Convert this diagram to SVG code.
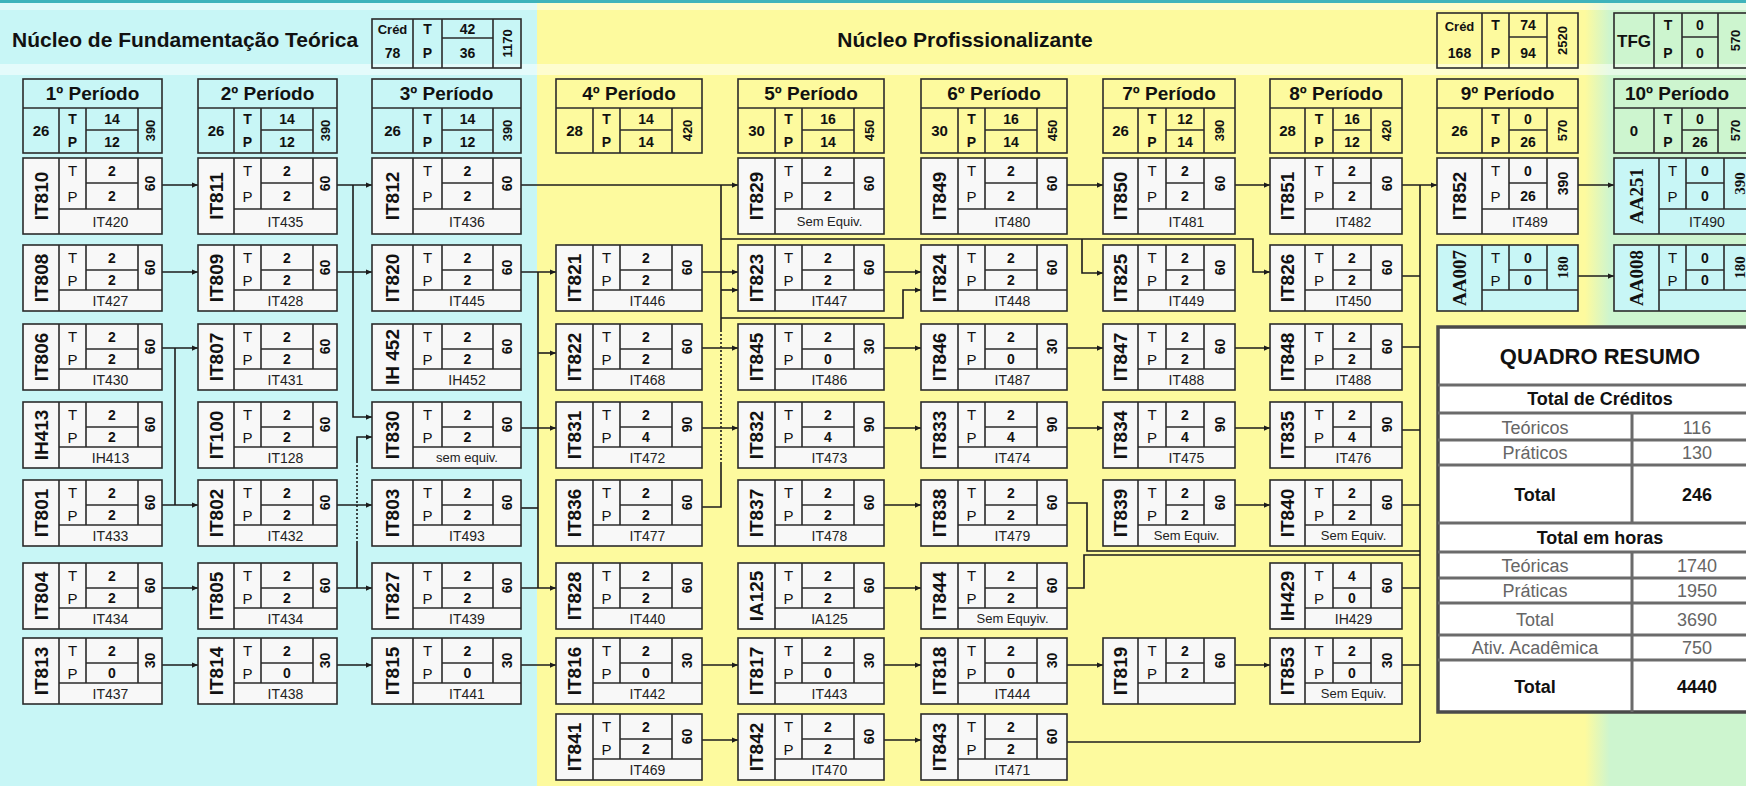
<svg xmlns="http://www.w3.org/2000/svg" width="1746" height="786" viewBox="0 0 1746 786">
<style>
text{font-family:"Liberation Sans",Arial,sans-serif;fill:#111;text-anchor:middle;dominant-baseline:central}
use{fill:#f8f8f8}
use.cy{fill:#c8f6f6}
.cd{font-weight:bold;font-size:19px}
.cs{font-family:"Liberation Serif","Times New Roman",serif;font-weight:bold;font-size:19px}
.tp{font-size:15px}
.v{font-weight:bold;font-size:14px}
.h{font-weight:bold;font-size:14px}
.hs{font-family:"Liberation Serif","Times New Roman",serif;font-weight:bold;font-size:15px}
.eq{font-size:14px;fill:#222}
.pt{font-weight:bold;font-size:19px}
.pv{font-weight:bold;font-size:14px}
.p1{font-weight:bold;font-size:15px}
.ph{font-weight:bold;font-size:13px}
.hd{font-weight:bold;font-size:21px;dominant-baseline:alphabetic}
.pb{fill:none;stroke:#2b2b2b;stroke-width:1.6}
.cn path{fill:none;stroke:#1c1c1c;stroke-width:1.6}
.cn path.a{marker-end:url(#ar)}
.cn path.d{stroke-dasharray:2,2}
.qt{dominant-baseline:alphabetic;font-size:18px}
.qb{font-weight:bold}
.qg{fill:#666}
</style>
<defs>
<marker id="ar" viewBox="0 0 8 8" refX="8" refY="4" markerWidth="7" markerHeight="6" markerUnits="userSpaceOnUse" orient="auto"><path d="M0,0.5L8,4L0,7.5z" fill="#1c1c1c"/></marker>
<g id="A1" stroke="#2b2b2b" stroke-width="1.6"><rect width="139" height="76"/><path fill="none" d="M36,0V76M63,0V51M115,0V51M63,25H115M36,51H139"/></g>
<g id="An" stroke="#2b2b2b" stroke-width="1.6"><rect width="139" height="66"/><path fill="none" d="M36,0V66M63,0V45M115,0V45M63,25H115M36,45H139"/></g>
<g id="B1" stroke="#2b2b2b" stroke-width="1.6"><rect width="149" height="76"/><path fill="none" d="M41,0V76M70,0V51M121,0V51M70,25H121M41,51H149"/></g>
<g id="Bn" stroke="#2b2b2b" stroke-width="1.6"><rect width="149" height="66"/><path fill="none" d="M41,0V66M70,0V45M121,0V45M70,25H121M41,45H149"/></g>
<g id="D1" stroke="#2b2b2b" stroke-width="1.6"><rect width="146" height="76"/><path fill="none" d="M37,0V76M64,0V51M116,0V51M64,25H116M37,51H146"/></g>
<g id="Dn" stroke="#2b2b2b" stroke-width="1.6"><rect width="146" height="66"/><path fill="none" d="M37,0V66M64,0V45M116,0V45M64,25H116M37,45H146"/></g>
<g id="E1" stroke="#2b2b2b" stroke-width="1.6"><rect width="132" height="76"/><path fill="none" d="M35,0V76M63,0V51M101,0V51M63,25H101M35,51H132"/></g>
<g id="En" stroke="#2b2b2b" stroke-width="1.6"><rect width="132" height="66"/><path fill="none" d="M35,0V66M63,0V45M101,0V45M63,25H101M35,45H132"/></g>
<g id="F1" stroke="#2b2b2b" stroke-width="1.6"><rect width="141" height="76"/><path fill="none" d="M45,0V76M72,0V51M110,0V51M72,25H110M45,51H141"/></g>
<g id="Fn" stroke="#2b2b2b" stroke-width="1.6"><rect width="141" height="66"/><path fill="none" d="M45,0V66M72,0V45M110,0V45M72,25H110M45,45H141"/></g>
<linearGradient id="yg" x1="0" x2="1" y1="0" y2="0"><stop offset="0" stop-color="#fdfa9e"/><stop offset="1" stop-color="#cdf5cf"/></linearGradient>
</defs>

<g id="background">
<rect x="0" y="0" width="537" height="786" fill="#c8f6f6"/>
<rect x="537" y="0" width="1060" height="786" fill="#fdfa9e"/>
<rect x="1585" y="0" width="25" height="786" fill="url(#yg)"/>
<rect x="1610" y="0" width="136" height="786" fill="#cdf5cf"/>
<rect x="0" y="0" width="1746" height="3" fill="#3fb3bb"/>
<rect x="0" y="3" width="1746" height="7" fill="#fff" opacity="0.45"/>
<rect x="0" y="64" width="1746" height="11" fill="#fff" opacity="0.5"/>
</g>

<g id="header">
<text class="hd" x="12" y="47" style="text-anchor:start">Núcleo de Fundamentação Teórica</text>
<text class="hd" x="965" y="47">Núcleo Profissionalizante</text>
<g id="cred1" transform="translate(372,19)"><rect class="pb" width="149" height="49"/><path class="pb" d="M41,0V49M70,0V49M121,0V49M70,19H121"/>
<text class="pv" x="20.5" y="10.5" style="font-size:13px">Créd</text><text class="pv" x="20.5" y="34">78</text><text class="pv" x="55.5" y="10">T</text><text class="pv" x="55.5" y="34">P</text><text class="pv" x="95.5" y="10">42</text><text class="pv" x="95.5" y="34">36</text><text class="ph" transform="translate(135,24.5) rotate(-90)">1170</text></g>
<g id="cred2" transform="translate(1437,13)"><rect class="pb" width="141" height="55"/><path class="pb" d="M45,0V55M72,0V55M110,0V55M72,24H110"/>
<text class="pv" x="22.5" y="13" style="font-size:13px">Créd</text><text class="pv" x="22.5" y="40">168</text><text class="pv" x="58.5" y="12">T</text><text class="pv" x="58.5" y="40">P</text><text class="pv" x="91" y="12">74</text><text class="pv" x="91" y="40">94</text><text class="ph" transform="translate(125.5,27.5) rotate(-90)">2520</text></g>
<g id="tfg" transform="translate(1614,13)"><rect class="pb" width="140" height="55"/><path class="pb" d="M40,0V55M68,0V55M104,0V55M68,24H104"/>
<text class="pv" x="20" y="28" style="font-size:17px">TFG</text><text class="pv" x="54" y="12">T</text><text class="pv" x="54" y="40">P</text><text class="pv" x="86" y="12">0</text><text class="pv" x="86" y="40">0</text><text class="ph" transform="translate(121,27.5) rotate(-90)">570</text></g>
</g>

<g id="periods">
<g id="p1" transform="translate(23,79)"><rect class="pb" width="139" height="74"/><path class="pb" d="M0,29H139M36,29V74M63,29V74M115,29V74M63,51H115"/><text class="pt" x="69.5" y="14.5">1º Período</text><text class="p1" x="18" y="51.5">26</text><text class="pv" x="49.5" y="40">T</text><text class="pv" x="49.5" y="62.5">P</text><text class="pv" x="89" y="40">14</text><text class="pv" x="89" y="62.5">12</text><text class="ph" transform="translate(127,51.5) rotate(-90)">390</text></g>
<g id="p2" transform="translate(198,79)"><rect class="pb" width="139" height="74"/><path class="pb" d="M0,29H139M36,29V74M63,29V74M115,29V74M63,51H115"/><text class="pt" x="69.5" y="14.5">2º Período</text><text class="p1" x="18" y="51.5">26</text><text class="pv" x="49.5" y="40">T</text><text class="pv" x="49.5" y="62.5">P</text><text class="pv" x="89" y="40">14</text><text class="pv" x="89" y="62.5">12</text><text class="ph" transform="translate(127,51.5) rotate(-90)">390</text></g>
<g id="p3" transform="translate(372,79)"><rect class="pb" width="149" height="74"/><path class="pb" d="M0,29H149M41,29V74M70,29V74M121,29V74M70,51H121"/><text class="pt" x="74.5" y="14.5">3º Período</text><text class="p1" x="20.5" y="51.5">26</text><text class="pv" x="55.5" y="40">T</text><text class="pv" x="55.5" y="62.5">P</text><text class="pv" x="95.5" y="40">14</text><text class="pv" x="95.5" y="62.5">12</text><text class="ph" transform="translate(135,51.5) rotate(-90)">390</text></g>
<g id="p4" transform="translate(556,79)"><rect class="pb" width="146" height="74"/><path class="pb" d="M0,29H146M37,29V74M64,29V74M116,29V74M64,51H116"/><text class="pt" x="73" y="14.5">4º Período</text><text class="p1" x="18.5" y="51.5">28</text><text class="pv" x="50.5" y="40">T</text><text class="pv" x="50.5" y="62.5">P</text><text class="pv" x="90" y="40">14</text><text class="pv" x="90" y="62.5">14</text><text class="ph" transform="translate(131,51.5) rotate(-90)">420</text></g>
<g id="p5" transform="translate(738,79)"><rect class="pb" width="146" height="74"/><path class="pb" d="M0,29H146M37,29V74M64,29V74M116,29V74M64,51H116"/><text class="pt" x="73" y="14.5">5º Período</text><text class="p1" x="18.5" y="51.5">30</text><text class="pv" x="50.5" y="40">T</text><text class="pv" x="50.5" y="62.5">P</text><text class="pv" x="90" y="40">16</text><text class="pv" x="90" y="62.5">14</text><text class="ph" transform="translate(131,51.5) rotate(-90)">450</text></g>
<g id="p6" transform="translate(921,79)"><rect class="pb" width="146" height="74"/><path class="pb" d="M0,29H146M37,29V74M64,29V74M116,29V74M64,51H116"/><text class="pt" x="73" y="14.5">6º Período</text><text class="p1" x="18.5" y="51.5">30</text><text class="pv" x="50.5" y="40">T</text><text class="pv" x="50.5" y="62.5">P</text><text class="pv" x="90" y="40">16</text><text class="pv" x="90" y="62.5">14</text><text class="ph" transform="translate(131,51.5) rotate(-90)">450</text></g>
<g id="p7" transform="translate(1103,79)"><rect class="pb" width="132" height="74"/><path class="pb" d="M0,29H132M35,29V74M63,29V74M101,29V74M63,51H101"/><text class="pt" x="66" y="14.5">7º Período</text><text class="p1" x="17.5" y="51.5">26</text><text class="pv" x="49" y="40">T</text><text class="pv" x="49" y="62.5">P</text><text class="pv" x="82" y="40">12</text><text class="pv" x="82" y="62.5">14</text><text class="ph" transform="translate(116.5,51.5) rotate(-90)">390</text></g>
<g id="p8" transform="translate(1270,79)"><rect class="pb" width="132" height="74"/><path class="pb" d="M0,29H132M35,29V74M63,29V74M101,29V74M63,51H101"/><text class="pt" x="66" y="14.5">8º Período</text><text class="p1" x="17.5" y="51.5">28</text><text class="pv" x="49" y="40">T</text><text class="pv" x="49" y="62.5">P</text><text class="pv" x="82" y="40">16</text><text class="pv" x="82" y="62.5">12</text><text class="ph" transform="translate(116.5,51.5) rotate(-90)">420</text></g>
<g id="p9" transform="translate(1437,79)"><rect class="pb" width="141" height="74"/><path class="pb" d="M0,29H141M45,29V74M72,29V74M110,29V74M72,51H110"/><text class="pt" x="70.5" y="14.5">9º Período</text><text class="p1" x="22.5" y="51.5">26</text><text class="pv" x="58.5" y="40">T</text><text class="pv" x="58.5" y="62.5">P</text><text class="pv" x="91" y="40">0</text><text class="pv" x="91" y="62.5">26</text><text class="ph" transform="translate(125.5,51.5) rotate(-90)">570</text></g>
<g id="p10" transform="translate(1614,79)"><rect class="pb" width="140" height="74"/><path class="pb" d="M0,29H140M40,29V74M68,29V74M104,29V74M68,51H104"/><text class="pt" x="63" y="14.5">10º Período</text><text class="p1" x="20" y="51.5">0</text><text class="pv" x="54" y="40">T</text><text class="pv" x="54" y="62.5">P</text><text class="pv" x="86" y="40">0</text><text class="pv" x="86" y="62.5">26</text><text class="ph" transform="translate(121,51.5) rotate(-90)">570</text></g>
</g>

<g id="connectors" class="cn">
<path class="a" d="M162,185H198"/>
<path class="a" d="M162,272H198"/>
<path class="a" d="M162,348H198"/>
<path d="M175,348V505"/>
<path class="a" d="M162,505H198"/>
<path class="a" d="M162,588H198"/>
<path class="a" d="M162,665H198"/>
<path class="a" d="M337,185H372"/>
<path class="a" d="M353,185V417H372"/>
<path class="a" d="M337,272H372"/>
<path class="a" d="M337,505H372"/>
<path class="a" d="M337,588H372"/>
<path d="M357,588V543"/>
<path class="d" d="M357,543V462"/>
<path class="a" d="M357,462V437H372"/>
<path class="a" d="M337,665H372"/>
<path class="a" d="M521,185H738"/>
<path class="a" d="M521,272H556"/>
<path d="M538,272V588"/>
<path class="a" d="M538,353H556"/>
<path class="a" d="M521,428H556"/>
<path d="M521,508H538"/>
<path class="a" d="M521,588H556"/>
<path class="a" d="M521,665H556"/>
<path d="M721,185V330"/>
<path class="d" d="M721,330V462"/>
<path d="M721,462V507H702"/>
<path class="a" d="M702,272H738"/>
<path class="a" d="M721,290H738"/>
<path class="a" d="M702,348H738"/>
<path class="a" d="M702,428H738"/>
<path class="a" d="M702,665H738"/>
<path class="a" d="M702,740H738"/>
<path class="a" d="M721,239H1253V272H1270"/>
<path class="a" d="M1082,239V273H1103"/>
<path class="a" d="M721,318H903V290H921"/>
<path class="a" d="M884,272H921"/>
<path class="a" d="M884,348H921"/>
<path class="a" d="M884,428H921"/>
<path class="a" d="M884,505H921"/>
<path class="a" d="M884,588H921"/>
<path class="a" d="M884,665H921"/>
<path class="a" d="M884,740H921"/>
<path class="a" d="M1067,185H1103"/>
<path class="a" d="M1067,348H1103"/>
<path class="a" d="M1067,428H1103"/>
<path class="a" d="M1067,665H1103"/>
<path d="M1067,503H1087V551H1420"/>
<path d="M1067,588H1084V555H1420"/>
<path d="M1067,742H1420"/>
<path class="a" d="M1234,185H1270"/>
<path class="a" d="M1234,348H1270"/>
<path class="a" d="M1234,428H1270"/>
<path class="a" d="M1234,505H1270"/>
<path class="a" d="M1234,665H1270"/>
<path class="a" d="M1402,185H1437"/>
<path d="M1420,185V742"/>
<path d="M1402,276H1420M1402,347H1420M1402,430H1420M1402,505H1420M1402,588H1420M1402,665H1420"/>
<path class="a" d="M1578,185H1614"/>
<path class="a" d="M1578,276H1614"/>
</g>

<g id="nodes">
<g id="IT810" transform="translate(23,158)"><use href="#A1"/><text class="cd" transform="translate(18,38) rotate(-90)">IT810</text><text class="tp" x="49.5" y="12.5">T</text><text class="tp" x="49.5" y="38">P</text><text class="v" x="89" y="12.5">2</text><text class="v" x="89" y="38">2</text><text class="h" transform="translate(127,25.5) rotate(-90)">60</text><text class="eq" x="87.5" y="63.5">IT420</text></g>
<g id="IT808" transform="translate(23,245)"><use href="#An"/><text class="cd" transform="translate(18,33) rotate(-90)">IT808</text><text class="tp" x="49.5" y="12.5">T</text><text class="tp" x="49.5" y="35">P</text><text class="v" x="89" y="12.5">2</text><text class="v" x="89" y="35">2</text><text class="h" transform="translate(127,22.5) rotate(-90)">60</text><text class="eq" x="87.5" y="55.5">IT427</text></g>
<g id="IT806" transform="translate(23,324)"><use href="#An"/><text class="cd" transform="translate(18,33) rotate(-90)">IT806</text><text class="tp" x="49.5" y="12.5">T</text><text class="tp" x="49.5" y="35">P</text><text class="v" x="89" y="12.5">2</text><text class="v" x="89" y="35">2</text><text class="h" transform="translate(127,22.5) rotate(-90)">60</text><text class="eq" x="87.5" y="55.5">IT430</text></g>
<g id="IH413" transform="translate(23,402)"><use href="#An"/><text class="cd" transform="translate(18,33) rotate(-90)">IH413</text><text class="tp" x="49.5" y="12.5">T</text><text class="tp" x="49.5" y="35">P</text><text class="v" x="89" y="12.5">2</text><text class="v" x="89" y="35">2</text><text class="h" transform="translate(127,22.5) rotate(-90)">60</text><text class="eq" x="87.5" y="55.5">IH413</text></g>
<g id="IT801" transform="translate(23,480)"><use href="#An"/><text class="cd" transform="translate(18,33) rotate(-90)">IT801</text><text class="tp" x="49.5" y="12.5">T</text><text class="tp" x="49.5" y="35">P</text><text class="v" x="89" y="12.5">2</text><text class="v" x="89" y="35">2</text><text class="h" transform="translate(127,22.5) rotate(-90)">60</text><text class="eq" x="87.5" y="55.5">IT433</text></g>
<g id="IT804" transform="translate(23,563)"><use href="#An"/><text class="cd" transform="translate(18,33) rotate(-90)">IT804</text><text class="tp" x="49.5" y="12.5">T</text><text class="tp" x="49.5" y="35">P</text><text class="v" x="89" y="12.5">2</text><text class="v" x="89" y="35">2</text><text class="h" transform="translate(127,22.5) rotate(-90)">60</text><text class="eq" x="87.5" y="55.5">IT434</text></g>
<g id="IT813" transform="translate(23,638)"><use href="#An"/><text class="cd" transform="translate(18,33) rotate(-90)">IT813</text><text class="tp" x="49.5" y="12.5">T</text><text class="tp" x="49.5" y="35">P</text><text class="v" x="89" y="12.5">2</text><text class="v" x="89" y="35">0</text><text class="h" transform="translate(127,22.5) rotate(-90)">30</text><text class="eq" x="87.5" y="55.5">IT437</text></g>
<g id="IT811" transform="translate(198,158)"><use href="#A1"/><text class="cd" transform="translate(18,38) rotate(-90)">IT811</text><text class="tp" x="49.5" y="12.5">T</text><text class="tp" x="49.5" y="38">P</text><text class="v" x="89" y="12.5">2</text><text class="v" x="89" y="38">2</text><text class="h" transform="translate(127,25.5) rotate(-90)">60</text><text class="eq" x="87.5" y="63.5">IT435</text></g>
<g id="IT809" transform="translate(198,245)"><use href="#An"/><text class="cd" transform="translate(18,33) rotate(-90)">IT809</text><text class="tp" x="49.5" y="12.5">T</text><text class="tp" x="49.5" y="35">P</text><text class="v" x="89" y="12.5">2</text><text class="v" x="89" y="35">2</text><text class="h" transform="translate(127,22.5) rotate(-90)">60</text><text class="eq" x="87.5" y="55.5">IT428</text></g>
<g id="IT807" transform="translate(198,324)"><use href="#An"/><text class="cd" transform="translate(18,33) rotate(-90)">IT807</text><text class="tp" x="49.5" y="12.5">T</text><text class="tp" x="49.5" y="35">P</text><text class="v" x="89" y="12.5">2</text><text class="v" x="89" y="35">2</text><text class="h" transform="translate(127,22.5) rotate(-90)">60</text><text class="eq" x="87.5" y="55.5">IT431</text></g>
<g id="IT100" transform="translate(198,402)"><use href="#An"/><text class="cd" transform="translate(18,33) rotate(-90)">IT100</text><text class="tp" x="49.5" y="12.5">T</text><text class="tp" x="49.5" y="35">P</text><text class="v" x="89" y="12.5">2</text><text class="v" x="89" y="35">2</text><text class="h" transform="translate(127,22.5) rotate(-90)">60</text><text class="eq" x="87.5" y="55.5">IT128</text></g>
<g id="IT802" transform="translate(198,480)"><use href="#An"/><text class="cd" transform="translate(18,33) rotate(-90)">IT802</text><text class="tp" x="49.5" y="12.5">T</text><text class="tp" x="49.5" y="35">P</text><text class="v" x="89" y="12.5">2</text><text class="v" x="89" y="35">2</text><text class="h" transform="translate(127,22.5) rotate(-90)">60</text><text class="eq" x="87.5" y="55.5">IT432</text></g>
<g id="IT805" transform="translate(198,563)"><use href="#An"/><text class="cd" transform="translate(18,33) rotate(-90)">IT805</text><text class="tp" x="49.5" y="12.5">T</text><text class="tp" x="49.5" y="35">P</text><text class="v" x="89" y="12.5">2</text><text class="v" x="89" y="35">2</text><text class="h" transform="translate(127,22.5) rotate(-90)">60</text><text class="eq" x="87.5" y="55.5">IT434</text></g>
<g id="IT814" transform="translate(198,638)"><use href="#An"/><text class="cd" transform="translate(18,33) rotate(-90)">IT814</text><text class="tp" x="49.5" y="12.5">T</text><text class="tp" x="49.5" y="35">P</text><text class="v" x="89" y="12.5">2</text><text class="v" x="89" y="35">0</text><text class="h" transform="translate(127,22.5) rotate(-90)">30</text><text class="eq" x="87.5" y="55.5">IT438</text></g>
<g id="IT812" transform="translate(372,158)"><use href="#B1"/><text class="cd" transform="translate(20.5,38) rotate(-90)">IT812</text><text class="tp" x="55.5" y="12.5">T</text><text class="tp" x="55.5" y="38">P</text><text class="v" x="95.5" y="12.5">2</text><text class="v" x="95.5" y="38">2</text><text class="h" transform="translate(135,25.5) rotate(-90)">60</text><text class="eq" x="95" y="63.5">IT436</text></g>
<g id="IT820" transform="translate(372,245)"><use href="#Bn"/><text class="cd" transform="translate(20.5,33) rotate(-90)">IT820</text><text class="tp" x="55.5" y="12.5">T</text><text class="tp" x="55.5" y="35">P</text><text class="v" x="95.5" y="12.5">2</text><text class="v" x="95.5" y="35">2</text><text class="h" transform="translate(135,22.5) rotate(-90)">60</text><text class="eq" x="95" y="55.5">IT445</text></g>
<g id="IH452" transform="translate(372,324)"><use href="#Bn"/><text class="cd" transform="translate(20.5,33) rotate(-90)">IH 452</text><text class="tp" x="55.5" y="12.5">T</text><text class="tp" x="55.5" y="35">P</text><text class="v" x="95.5" y="12.5">2</text><text class="v" x="95.5" y="35">2</text><text class="h" transform="translate(135,22.5) rotate(-90)">60</text><text class="eq" x="95" y="55.5">IH452</text></g>
<g id="IT830" transform="translate(372,402)"><use href="#Bn"/><text class="cd" transform="translate(20.5,33) rotate(-90)">IT830</text><text class="tp" x="55.5" y="12.5">T</text><text class="tp" x="55.5" y="35">P</text><text class="v" x="95.5" y="12.5">2</text><text class="v" x="95.5" y="35">2</text><text class="h" transform="translate(135,22.5) rotate(-90)">60</text><text class="eq" x="95" y="55.5" style="font-size:13px">sem equiv.</text></g>
<g id="IT803" transform="translate(372,480)"><use href="#Bn"/><text class="cd" transform="translate(20.5,33) rotate(-90)">IT803</text><text class="tp" x="55.5" y="12.5">T</text><text class="tp" x="55.5" y="35">P</text><text class="v" x="95.5" y="12.5">2</text><text class="v" x="95.5" y="35">2</text><text class="h" transform="translate(135,22.5) rotate(-90)">60</text><text class="eq" x="95" y="55.5">IT493</text></g>
<g id="IT827" transform="translate(372,563)"><use href="#Bn"/><text class="cd" transform="translate(20.5,33) rotate(-90)">IT827</text><text class="tp" x="55.5" y="12.5">T</text><text class="tp" x="55.5" y="35">P</text><text class="v" x="95.5" y="12.5">2</text><text class="v" x="95.5" y="35">2</text><text class="h" transform="translate(135,22.5) rotate(-90)">60</text><text class="eq" x="95" y="55.5">IT439</text></g>
<g id="IT815" transform="translate(372,638)"><use href="#Bn"/><text class="cd" transform="translate(20.5,33) rotate(-90)">IT815</text><text class="tp" x="55.5" y="12.5">T</text><text class="tp" x="55.5" y="35">P</text><text class="v" x="95.5" y="12.5">2</text><text class="v" x="95.5" y="35">0</text><text class="h" transform="translate(135,22.5) rotate(-90)">30</text><text class="eq" x="95" y="55.5">IT441</text></g>
<g id="IT821" transform="translate(556,245)"><use href="#Dn"/><text class="cd" transform="translate(18.5,33) rotate(-90)">IT821</text><text class="tp" x="50.5" y="12.5">T</text><text class="tp" x="50.5" y="35">P</text><text class="v" x="90" y="12.5">2</text><text class="v" x="90" y="35">2</text><text class="h" transform="translate(131,22.5) rotate(-90)">60</text><text class="eq" x="91.5" y="55.5">IT446</text></g>
<g id="IT822" transform="translate(556,324)"><use href="#Dn"/><text class="cd" transform="translate(18.5,33) rotate(-90)">IT822</text><text class="tp" x="50.5" y="12.5">T</text><text class="tp" x="50.5" y="35">P</text><text class="v" x="90" y="12.5">2</text><text class="v" x="90" y="35">2</text><text class="h" transform="translate(131,22.5) rotate(-90)">60</text><text class="eq" x="91.5" y="55.5">IT468</text></g>
<g id="IT831" transform="translate(556,402)"><use href="#Dn"/><text class="cd" transform="translate(18.5,33) rotate(-90)">IT831</text><text class="tp" x="50.5" y="12.5">T</text><text class="tp" x="50.5" y="35">P</text><text class="v" x="90" y="12.5">2</text><text class="v" x="90" y="35">4</text><text class="h" transform="translate(131,22.5) rotate(-90)">90</text><text class="eq" x="91.5" y="55.5">IT472</text></g>
<g id="IT836" transform="translate(556,480)"><use href="#Dn"/><text class="cd" transform="translate(18.5,33) rotate(-90)">IT836</text><text class="tp" x="50.5" y="12.5">T</text><text class="tp" x="50.5" y="35">P</text><text class="v" x="90" y="12.5">2</text><text class="v" x="90" y="35">2</text><text class="h" transform="translate(131,22.5) rotate(-90)">60</text><text class="eq" x="91.5" y="55.5">IT477</text></g>
<g id="IT828" transform="translate(556,563)"><use href="#Dn"/><text class="cd" transform="translate(18.5,33) rotate(-90)">IT828</text><text class="tp" x="50.5" y="12.5">T</text><text class="tp" x="50.5" y="35">P</text><text class="v" x="90" y="12.5">2</text><text class="v" x="90" y="35">2</text><text class="h" transform="translate(131,22.5) rotate(-90)">60</text><text class="eq" x="91.5" y="55.5">IT440</text></g>
<g id="IT816" transform="translate(556,638)"><use href="#Dn"/><text class="cd" transform="translate(18.5,33) rotate(-90)">IT816</text><text class="tp" x="50.5" y="12.5">T</text><text class="tp" x="50.5" y="35">P</text><text class="v" x="90" y="12.5">2</text><text class="v" x="90" y="35">0</text><text class="h" transform="translate(131,22.5) rotate(-90)">30</text><text class="eq" x="91.5" y="55.5">IT442</text></g>
<g id="IT841" transform="translate(556,714)"><use href="#Dn"/><text class="cd" transform="translate(18.5,33) rotate(-90)">IT841</text><text class="tp" x="50.5" y="12.5">T</text><text class="tp" x="50.5" y="35">P</text><text class="v" x="90" y="12.5">2</text><text class="v" x="90" y="35">2</text><text class="h" transform="translate(131,22.5) rotate(-90)">60</text><text class="eq" x="91.5" y="55.5">IT469</text></g>
<g id="IT829" transform="translate(738,158)"><use href="#D1"/><text class="cd" transform="translate(18.5,38) rotate(-90)">IT829</text><text class="tp" x="50.5" y="12.5">T</text><text class="tp" x="50.5" y="38">P</text><text class="v" x="90" y="12.5">2</text><text class="v" x="90" y="38">2</text><text class="h" transform="translate(131,25.5) rotate(-90)">60</text><text class="eq" x="91.5" y="63.5" style="font-size:13px">Sem Equiv.</text></g>
<g id="IT823" transform="translate(738,245)"><use href="#Dn"/><text class="cd" transform="translate(18.5,33) rotate(-90)">IT823</text><text class="tp" x="50.5" y="12.5">T</text><text class="tp" x="50.5" y="35">P</text><text class="v" x="90" y="12.5">2</text><text class="v" x="90" y="35">2</text><text class="h" transform="translate(131,22.5) rotate(-90)">60</text><text class="eq" x="91.5" y="55.5">IT447</text></g>
<g id="IT845" transform="translate(738,324)"><use href="#Dn"/><text class="cd" transform="translate(18.5,33) rotate(-90)">IT845</text><text class="tp" x="50.5" y="12.5">T</text><text class="tp" x="50.5" y="35">P</text><text class="v" x="90" y="12.5">2</text><text class="v" x="90" y="35">0</text><text class="h" transform="translate(131,22.5) rotate(-90)">30</text><text class="eq" x="91.5" y="55.5">IT486</text></g>
<g id="IT832" transform="translate(738,402)"><use href="#Dn"/><text class="cd" transform="translate(18.5,33) rotate(-90)">IT832</text><text class="tp" x="50.5" y="12.5">T</text><text class="tp" x="50.5" y="35">P</text><text class="v" x="90" y="12.5">2</text><text class="v" x="90" y="35">4</text><text class="h" transform="translate(131,22.5) rotate(-90)">90</text><text class="eq" x="91.5" y="55.5">IT473</text></g>
<g id="IT837" transform="translate(738,480)"><use href="#Dn"/><text class="cd" transform="translate(18.5,33) rotate(-90)">IT837</text><text class="tp" x="50.5" y="12.5">T</text><text class="tp" x="50.5" y="35">P</text><text class="v" x="90" y="12.5">2</text><text class="v" x="90" y="35">2</text><text class="h" transform="translate(131,22.5) rotate(-90)">60</text><text class="eq" x="91.5" y="55.5">IT478</text></g>
<g id="IA125" transform="translate(738,563)"><use href="#Dn"/><text class="cd" transform="translate(18.5,33) rotate(-90)">IA125</text><text class="tp" x="50.5" y="12.5">T</text><text class="tp" x="50.5" y="35">P</text><text class="v" x="90" y="12.5">2</text><text class="v" x="90" y="35">2</text><text class="h" transform="translate(131,22.5) rotate(-90)">60</text><text class="eq" x="91.5" y="55.5">IA125</text></g>
<g id="IT817" transform="translate(738,638)"><use href="#Dn"/><text class="cd" transform="translate(18.5,33) rotate(-90)">IT817</text><text class="tp" x="50.5" y="12.5">T</text><text class="tp" x="50.5" y="35">P</text><text class="v" x="90" y="12.5">2</text><text class="v" x="90" y="35">0</text><text class="h" transform="translate(131,22.5) rotate(-90)">30</text><text class="eq" x="91.5" y="55.5">IT443</text></g>
<g id="IT842" transform="translate(738,714)"><use href="#Dn"/><text class="cd" transform="translate(18.5,33) rotate(-90)">IT842</text><text class="tp" x="50.5" y="12.5">T</text><text class="tp" x="50.5" y="35">P</text><text class="v" x="90" y="12.5">2</text><text class="v" x="90" y="35">2</text><text class="h" transform="translate(131,22.5) rotate(-90)">60</text><text class="eq" x="91.5" y="55.5">IT470</text></g>
<g id="IT849" transform="translate(921,158)"><use href="#D1"/><text class="cd" transform="translate(18.5,38) rotate(-90)">IT849</text><text class="tp" x="50.5" y="12.5">T</text><text class="tp" x="50.5" y="38">P</text><text class="v" x="90" y="12.5">2</text><text class="v" x="90" y="38">2</text><text class="h" transform="translate(131,25.5) rotate(-90)">60</text><text class="eq" x="91.5" y="63.5">IT480</text></g>
<g id="IT824" transform="translate(921,245)"><use href="#Dn"/><text class="cd" transform="translate(18.5,33) rotate(-90)">IT824</text><text class="tp" x="50.5" y="12.5">T</text><text class="tp" x="50.5" y="35">P</text><text class="v" x="90" y="12.5">2</text><text class="v" x="90" y="35">2</text><text class="h" transform="translate(131,22.5) rotate(-90)">60</text><text class="eq" x="91.5" y="55.5">IT448</text></g>
<g id="IT846" transform="translate(921,324)"><use href="#Dn"/><text class="cd" transform="translate(18.5,33) rotate(-90)">IT846</text><text class="tp" x="50.5" y="12.5">T</text><text class="tp" x="50.5" y="35">P</text><text class="v" x="90" y="12.5">2</text><text class="v" x="90" y="35">0</text><text class="h" transform="translate(131,22.5) rotate(-90)">30</text><text class="eq" x="91.5" y="55.5">IT487</text></g>
<g id="IT833" transform="translate(921,402)"><use href="#Dn"/><text class="cd" transform="translate(18.5,33) rotate(-90)">IT833</text><text class="tp" x="50.5" y="12.5">T</text><text class="tp" x="50.5" y="35">P</text><text class="v" x="90" y="12.5">2</text><text class="v" x="90" y="35">4</text><text class="h" transform="translate(131,22.5) rotate(-90)">90</text><text class="eq" x="91.5" y="55.5">IT474</text></g>
<g id="IT838" transform="translate(921,480)"><use href="#Dn"/><text class="cd" transform="translate(18.5,33) rotate(-90)">IT838</text><text class="tp" x="50.5" y="12.5">T</text><text class="tp" x="50.5" y="35">P</text><text class="v" x="90" y="12.5">2</text><text class="v" x="90" y="35">2</text><text class="h" transform="translate(131,22.5) rotate(-90)">60</text><text class="eq" x="91.5" y="55.5">IT479</text></g>
<g id="IT844" transform="translate(921,563)"><use href="#Dn"/><text class="cd" transform="translate(18.5,33) rotate(-90)">IT844</text><text class="tp" x="50.5" y="12.5">T</text><text class="tp" x="50.5" y="35">P</text><text class="v" x="90" y="12.5">2</text><text class="v" x="90" y="35">2</text><text class="h" transform="translate(131,22.5) rotate(-90)">60</text><text class="eq" x="91.5" y="55.5" style="font-size:13px">Sem Equyiv.</text></g>
<g id="IT818" transform="translate(921,638)"><use href="#Dn"/><text class="cd" transform="translate(18.5,33) rotate(-90)">IT818</text><text class="tp" x="50.5" y="12.5">T</text><text class="tp" x="50.5" y="35">P</text><text class="v" x="90" y="12.5">2</text><text class="v" x="90" y="35">0</text><text class="h" transform="translate(131,22.5) rotate(-90)">30</text><text class="eq" x="91.5" y="55.5">IT444</text></g>
<g id="IT843" transform="translate(921,714)"><use href="#Dn"/><text class="cd" transform="translate(18.5,33) rotate(-90)">IT843</text><text class="tp" x="50.5" y="12.5">T</text><text class="tp" x="50.5" y="35">P</text><text class="v" x="90" y="12.5">2</text><text class="v" x="90" y="35">2</text><text class="h" transform="translate(131,22.5) rotate(-90)">60</text><text class="eq" x="91.5" y="55.5">IT471</text></g>
<g id="IT850" transform="translate(1103,158)"><use href="#E1"/><text class="cd" transform="translate(17.5,38) rotate(-90)">IT850</text><text class="tp" x="49" y="12.5">T</text><text class="tp" x="49" y="38">P</text><text class="v" x="82" y="12.5">2</text><text class="v" x="82" y="38">2</text><text class="h" transform="translate(116.5,25.5) rotate(-90)">60</text><text class="eq" x="83.5" y="63.5">IT481</text></g>
<g id="IT825" transform="translate(1103,245)"><use href="#En"/><text class="cd" transform="translate(17.5,33) rotate(-90)">IT825</text><text class="tp" x="49" y="12.5">T</text><text class="tp" x="49" y="35">P</text><text class="v" x="82" y="12.5">2</text><text class="v" x="82" y="35">2</text><text class="h" transform="translate(116.5,22.5) rotate(-90)">60</text><text class="eq" x="83.5" y="55.5">IT449</text></g>
<g id="IT847" transform="translate(1103,324)"><use href="#En"/><text class="cd" transform="translate(17.5,33) rotate(-90)">IT847</text><text class="tp" x="49" y="12.5">T</text><text class="tp" x="49" y="35">P</text><text class="v" x="82" y="12.5">2</text><text class="v" x="82" y="35">2</text><text class="h" transform="translate(116.5,22.5) rotate(-90)">60</text><text class="eq" x="83.5" y="55.5">IT488</text></g>
<g id="IT834" transform="translate(1103,402)"><use href="#En"/><text class="cd" transform="translate(17.5,33) rotate(-90)">IT834</text><text class="tp" x="49" y="12.5">T</text><text class="tp" x="49" y="35">P</text><text class="v" x="82" y="12.5">2</text><text class="v" x="82" y="35">4</text><text class="h" transform="translate(116.5,22.5) rotate(-90)">90</text><text class="eq" x="83.5" y="55.5">IT475</text></g>
<g id="IT839" transform="translate(1103,480)"><use href="#En"/><text class="cd" transform="translate(17.5,33) rotate(-90)">IT839</text><text class="tp" x="49" y="12.5">T</text><text class="tp" x="49" y="35">P</text><text class="v" x="82" y="12.5">2</text><text class="v" x="82" y="35">2</text><text class="h" transform="translate(116.5,22.5) rotate(-90)">60</text><text class="eq" x="83.5" y="55.5" style="font-size:13px">Sem Equiv.</text></g>
<g id="IT819" transform="translate(1103,638)"><use href="#En"/><text class="cd" transform="translate(17.5,33) rotate(-90)">IT819</text><text class="tp" x="49" y="12.5">T</text><text class="tp" x="49" y="35">P</text><text class="v" x="82" y="12.5">2</text><text class="v" x="82" y="35">2</text><text class="h" transform="translate(116.5,22.5) rotate(-90)">60</text></g>
<g id="IT851" transform="translate(1270,158)"><use href="#E1"/><text class="cd" transform="translate(17.5,38) rotate(-90)">IT851</text><text class="tp" x="49" y="12.5">T</text><text class="tp" x="49" y="38">P</text><text class="v" x="82" y="12.5">2</text><text class="v" x="82" y="38">2</text><text class="h" transform="translate(116.5,25.5) rotate(-90)">60</text><text class="eq" x="83.5" y="63.5">IT482</text></g>
<g id="IT826" transform="translate(1270,245)"><use href="#En"/><text class="cd" transform="translate(17.5,33) rotate(-90)">IT826</text><text class="tp" x="49" y="12.5">T</text><text class="tp" x="49" y="35">P</text><text class="v" x="82" y="12.5">2</text><text class="v" x="82" y="35">2</text><text class="h" transform="translate(116.5,22.5) rotate(-90)">60</text><text class="eq" x="83.5" y="55.5">IT450</text></g>
<g id="IT848" transform="translate(1270,324)"><use href="#En"/><text class="cd" transform="translate(17.5,33) rotate(-90)">IT848</text><text class="tp" x="49" y="12.5">T</text><text class="tp" x="49" y="35">P</text><text class="v" x="82" y="12.5">2</text><text class="v" x="82" y="35">2</text><text class="h" transform="translate(116.5,22.5) rotate(-90)">60</text><text class="eq" x="83.5" y="55.5">IT488</text></g>
<g id="IT835" transform="translate(1270,402)"><use href="#En"/><text class="cd" transform="translate(17.5,33) rotate(-90)">IT835</text><text class="tp" x="49" y="12.5">T</text><text class="tp" x="49" y="35">P</text><text class="v" x="82" y="12.5">2</text><text class="v" x="82" y="35">4</text><text class="h" transform="translate(116.5,22.5) rotate(-90)">90</text><text class="eq" x="83.5" y="55.5">IT476</text></g>
<g id="IT840" transform="translate(1270,480)"><use href="#En"/><text class="cd" transform="translate(17.5,33) rotate(-90)">IT840</text><text class="tp" x="49" y="12.5">T</text><text class="tp" x="49" y="35">P</text><text class="v" x="82" y="12.5">2</text><text class="v" x="82" y="35">2</text><text class="h" transform="translate(116.5,22.5) rotate(-90)">60</text><text class="eq" x="83.5" y="55.5" style="font-size:13px">Sem Equiv.</text></g>
<g id="IH429" transform="translate(1270,563)"><use href="#En"/><text class="cd" transform="translate(17.5,33) rotate(-90)">IH429</text><text class="tp" x="49" y="12.5">T</text><text class="tp" x="49" y="35">P</text><text class="v" x="82" y="12.5">4</text><text class="v" x="82" y="35">0</text><text class="h" transform="translate(116.5,22.5) rotate(-90)">60</text><text class="eq" x="83.5" y="55.5">IH429</text></g>
<g id="IT853" transform="translate(1270,638)"><use href="#En"/><text class="cd" transform="translate(17.5,33) rotate(-90)">IT853</text><text class="tp" x="49" y="12.5">T</text><text class="tp" x="49" y="35">P</text><text class="v" x="82" y="12.5">2</text><text class="v" x="82" y="35">0</text><text class="h" transform="translate(116.5,22.5) rotate(-90)">30</text><text class="eq" x="83.5" y="55.5" style="font-size:13px">Sem Equiv.</text></g>
<g id="IT852" transform="translate(1437,158)"><use href="#F1"/><text class="cd" transform="translate(22.5,38) rotate(-90)">IT852</text><text class="tp" x="58.5" y="12.5">T</text><text class="tp" x="58.5" y="38">P</text><text class="v" x="91" y="12.5">0</text><text class="v" x="91" y="38">26</text><text class="h" transform="translate(125.5,25.5) rotate(-90)">390</text><text class="eq" x="93" y="63.5">IT489</text></g>
<g id="AA007" transform="translate(1437,245)"><use href="#Fn" class="cy"/><text class="cs" transform="translate(22.5,33) rotate(-90)">AA007</text><text class="tp" x="58.5" y="12.5">T</text><text class="tp" x="58.5" y="35">P</text><text class="v" x="91" y="12.5">0</text><text class="v" x="91" y="35">0</text><text class="hs" transform="translate(125.5,22.5) rotate(-90)">180</text></g>
<g id="AA251" transform="translate(1614,158)"><use href="#F1" class="cy"/><text class="cs" transform="translate(22.5,38) rotate(-90)">AA251</text><text class="tp" x="58.5" y="12.5">T</text><text class="tp" x="58.5" y="38">P</text><text class="v" x="91" y="12.5">0</text><text class="v" x="91" y="38">0</text><text class="hs" transform="translate(125.5,25.5) rotate(-90)">390</text><text class="eq" x="93" y="63.5">IT490</text></g>
<g id="AA008" transform="translate(1614,245)"><use href="#Fn" class="cy"/><text class="cs" transform="translate(22.5,33) rotate(-90)">AA008</text><text class="tp" x="58.5" y="12.5">T</text><text class="tp" x="58.5" y="35">P</text><text class="v" x="91" y="12.5">0</text><text class="v" x="91" y="35">0</text><text class="hs" transform="translate(125.5,22.5) rotate(-90)">180</text></g>
</g>

<g id="quadro">
<rect x="1438" y="327" width="320" height="385" fill="#fff" stroke="#4a4a4a" stroke-width="3.5"/>
<path d="M1438,385H1758M1438,413H1758M1438,440H1758M1438,465H1758M1438,523H1758M1438,552H1758M1438,578H1758M1438,603H1758M1438,635H1758M1438,660H1758M1632,413V523M1632,552V712" stroke="#6b6b6b" stroke-width="3" fill="none"/>
<text class="qt qb" x="1600" y="364" style="font-size:22px">QUADRO RESUMO</text>
<text class="qt qb" x="1600" y="405">Total de Créditos</text>
<text class="qt qg" x="1535" y="434">Teóricos</text><text class="qt qg" x="1697" y="434">116</text>
<text class="qt qg" x="1535" y="459">Práticos</text><text class="qt qg" x="1697" y="459">130</text>
<text class="qt qb" x="1535" y="501">Total</text><text class="qt qb" x="1697" y="501">246</text>
<text class="qt qb" x="1600" y="544">Total em horas</text>
<text class="qt qg" x="1535" y="572">Teóricas</text><text class="qt qg" x="1697" y="572">1740</text>
<text class="qt qg" x="1535" y="597">Práticas</text><text class="qt qg" x="1697" y="597">1950</text>
<text class="qt qg" x="1535" y="626">Total</text><text class="qt qg" x="1697" y="626">3690</text>
<text class="qt qg" x="1535" y="654">Ativ. Acadêmica</text><text class="qt qg" x="1697" y="654">750</text>
<text class="qt qb" x="1535" y="693">Total</text><text class="qt qb" x="1697" y="693">4440</text>
</g>
</svg>
